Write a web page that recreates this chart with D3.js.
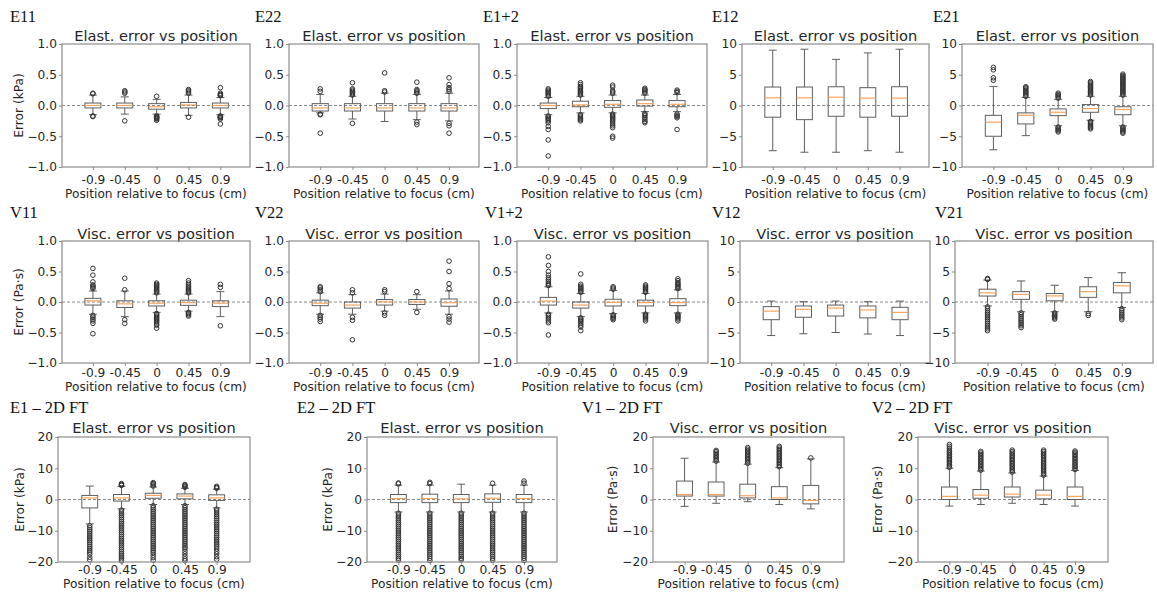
<!DOCTYPE html>
<html><head><meta charset="utf-8">
<script src="https://cdn.jsdelivr.net/npm/d3@7"></script>
<style>body{margin:0;background:#fff}svg{display:block}</style>
</head><body>
<svg id="c" width="1157" height="595"></svg>
<script>
// ---------- data ----------
const positions = [1, 2, 3, 4, 5];
const tickLabels = ["-0.9", "-0.45", "0", "0.45", "0.9"];

// box stats per position: [lowWhisker, q1, median, q3, highWhisker]
const E11_box = [[-0.15,-0.04,0.0,0.04,0.17],[-0.14,-0.04,0.0,0.04,0.14],[-0.14,-0.06,-0.02,0.03,0.1],[-0.16,-0.04,0.01,0.05,0.17],[-0.15,-0.04,0.0,0.04,0.13]];
const E11_fliers = [[0.19,0.2,-0.17,-0.18],[0.2,0.22,0.24,-0.25],[0.15,-0.17,-0.18,-0.19,-0.2,-0.21,-0.22,-0.24],[0.2,0.22,0.24,0.26,-0.19],[0.16,0.17,0.18,0.2,0.29,-0.17,-0.18,-0.19,-0.2,-0.22,-0.3]];

const E22_box = [[-0.12,-0.09,-0.04,0.03,0.18],[-0.22,-0.09,-0.04,0.03,0.15],[-0.26,-0.09,-0.04,0.03,0.2],[-0.23,-0.09,-0.04,0.03,0.18],[-0.25,-0.09,-0.04,0.03,0.2]];
const E22_fliers = [[0.23,0.27,-0.14,-0.15,-0.45],[0.17,0.19,0.21,0.23,0.25,0.27,0.37,-0.29],[0.22,0.24,0.53],[0.2,0.22,0.24,0.26,0.38,-0.27,-0.31],[0.23,0.26,0.29,0.34,0.45,-0.29,-0.33,-0.45]];

const E12p_box = [[-0.15,-0.05,0.0,0.04,0.13],[-0.12,-0.02,0.01,0.07,0.15],[-0.12,-0.03,0.02,0.08,0.17],[-0.1,-0.01,0.03,0.09,0.17],[-0.1,-0.02,0.02,0.08,0.18]];
const E12p_fliers = [[0.15,0.17,0.19,0.21,0.23,0.25,0.27,-0.17,-0.19,-0.21,-0.23,-0.25,-0.28,-0.34,-0.39,-0.56,-0.82],[0.17,0.19,0.21,0.23,0.25,0.27,0.29,0.31,0.34,0.37,-0.15,-0.17,-0.19,-0.21,-0.23,-0.25],[0.2,0.22,0.24,0.3,0.33,-0.14,-0.16,-0.18,-0.2,-0.22,-0.24,-0.27,-0.3,-0.33,-0.36,-0.5,-0.53],[0.2,0.22,0.24,0.26,0.28,-0.13,-0.15,-0.17,-0.2,-0.23,-0.26,-0.28],[0.21,0.23,0.25,-0.14,-0.16,-0.18,-0.2,-0.39]];

const E12_box = [[-7.35,-1.9,1.25,3.0,9.0],[-7.6,-2.3,1.25,3.0,9.15],[-7.6,-1.75,1.35,3.05,7.5],[-7.35,-1.9,1.2,2.9,8.55],[-7.6,-1.75,1.2,3.05,9.15]];
const E12_fliers = [[],[],[],[],[]];

const E21_box = [[-7.2,-5.0,-2.7,-1.6,3.1],[-4.9,-3.0,-1.6,-1.2,1.3],[-3.3,-1.65,-1.1,-0.55,1.0],[-2.4,-1.1,-0.5,0.15,1.5],[-3.3,-1.5,-0.65,-0.2,1.5]];
const E21_fliers = [[4.1,4.5,5.8,6.2],[1.5,1.7,1.9,2.1,2.3,2.5,2.7,2.9,3.05],[1.2,1.4,1.6,1.8,2.0,-3.5,-3.7,-3.9,-4.1,-4.3],[1.7,1.9,2.1,2.3,2.5,2.7,2.9,3.1,3.3,3.5,3.7,3.9,-2.6,-2.8,-3.0,-3.2,-3.4,-3.6,-3.8],[1.7,1.9,2.1,2.3,2.5,2.7,2.9,3.1,3.3,3.5,3.7,3.9,4.1,4.3,4.5,4.7,4.9,5.1,-3.5,-3.7,-3.9,-4.1,-4.3,-4.5]];

const V11_box = [[-0.2,-0.05,0.02,0.06,0.18],[-0.24,-0.09,-0.03,0.02,0.18],[-0.17,-0.065,-0.02,0.02,0.13],[-0.15,-0.055,-0.01,0.03,0.13],[-0.24,-0.075,-0.02,0.02,0.17]];
const V11_fliers = [[0.22,0.24,0.26,0.28,0.33,0.44,0.55,-0.22,-0.25,-0.28,-0.31,-0.35,-0.52],[0.2,0.39,-0.29,-0.35],[0.15,0.17,0.19,0.21,0.23,0.25,0.27,0.29,0.31,-0.19,-0.21,-0.23,-0.25,-0.27,-0.29,-0.31,-0.33,-0.36,-0.38,-0.43],[0.15,0.17,0.19,0.21,0.23,0.25,0.28,0.31,0.35,-0.17,-0.19,-0.21,-0.23],[0.24,0.29,-0.39]];

const V22_box = [[-0.2,-0.06,-0.02,0.03,0.15],[-0.2,-0.1,-0.05,0.0,0.12],[-0.15,-0.05,0.0,0.04,0.13],[-0.12,-0.04,0.0,0.04,0.12],[-0.2,-0.07,-0.01,0.05,0.18]];
const V22_fliers = [[0.17,0.2,0.23,0.25,-0.22,-0.25,-0.28,-0.32],[0.15,0.2,-0.25,-0.3,-0.62],[0.17,0.2,-0.18,-0.22],[0.17,-0.17],[0.22,0.3,0.5,0.67,-0.24,-0.28,-0.33]];

const V12p_box = [[-0.18,-0.05,0.016,0.076,0.25],[-0.24,-0.1,-0.05,0.0,0.14],[-0.19,-0.065,-0.005,0.045,0.19],[-0.18,-0.065,-0.01,0.03,0.14],[-0.18,-0.06,-0.01,0.055,0.2]];
const V12p_fliers = [[0.27,0.29,0.31,0.34,0.37,0.4,0.44,0.5,0.6,0.74,-0.2,-0.22,-0.25,-0.28,-0.31,-0.34,-0.54],[0.16,0.18,0.2,0.22,0.24,0.26,0.29,0.46,-0.26,-0.28,-0.3,-0.32,-0.35,-0.38,-0.41,-0.47],[0.21,0.23,0.25,-0.21,-0.23,-0.25,-0.27,-0.29],[0.16,0.18,0.2,0.22,0.24,0.26,0.28,-0.2,-0.22,-0.24,-0.26,-0.28,-0.31],[0.22,0.24,0.26,0.28,0.3,0.32,0.35,0.38,-0.2,-0.22,-0.24,-0.26,-0.28,-0.31]];

const V12_box = [[-5.5,-2.9,-1.5,-0.76,0.15],[-5.2,-2.5,-1.2,-0.65,0.05],[-5.0,-2.3,-1.0,-0.5,0.15],[-5.25,-2.6,-1.3,-0.65,0.05],[-5.5,-2.9,-1.7,-0.87,0.15]];
const V12_fliers = [[],[],[],[],[]];

const V21_box = [[-0.65,0.98,1.5,2.1,3.6],[-1.6,0.43,1.25,1.7,3.45],[-1.6,0.2,1.0,1.4,2.75],[-1.6,0.76,1.7,2.5,4.0],[-0.9,1.5,2.65,3.2,4.8]];
const V21_fliers = [[3.7,3.85,-0.8,-1.1,-1.4,-1.7,-2.0,-2.3,-2.6,-2.9,-3.2,-3.5,-3.8,-4.1,-4.4,-4.7],[-1.8,-2.1,-2.4,-2.7,-3.0,-3.3,-3.6,-3.9,-4.2],[-1.8,-2.0,-2.2,-2.4,-2.6,-2.8],[-1.9,-2.2],[-1.1,-1.4,-1.7,-2.0,-2.3,-2.6,-2.9]];

const E1FT_box = [[-7.8,-2.7,0.5,1.3,4.3],[-3.0,-0.5,0.5,1.6,4.2],[-1.6,0.4,1.3,2.0,4.0],[-1.6,0.2,1.1,1.8,3.6],[-2.7,-0.3,0.5,1.5,3.3]];
const E1FT_fliers = [
 [-8.4,-9.0,-9.6,-10.2,-10.8,-11.4,-12.0,-12.6,-13.2,-13.8,-14.4,-15.0,-15.6,-16.2,-16.8,-17.5,-18.5,-19.3],
 [4.5,4.8,5.1,-3.4,-4.0,-4.6,-5.2,-5.8,-6.4,-7.0,-7.6,-8.2,-8.8,-9.4,-10.0,-10.6,-11.2,-11.8,-12.4,-13.0,-13.6,-14.2,-14.8,-15.4,-16.0,-16.6,-17.2,-17.8,-18.4,-19.0,-19.6],
 [4.3,4.7,5.1,5.4,-2.0,-2.6,-3.2,-3.8,-4.4,-5.0,-5.6,-6.2,-6.8,-7.4,-8.0,-8.6,-9.2,-9.8,-10.4,-11.0,-11.6,-12.2,-12.8,-13.4,-14.0,-14.6,-15.2,-15.8,-16.4,-17.0,-17.8,-18.6,-19.4],
 [3.9,4.2,4.5,4.8,-2.0,-2.6,-3.2,-3.8,-4.4,-5.0,-5.6,-6.2,-6.8,-7.4,-8.0,-8.6,-9.2,-9.8,-10.4,-11.0,-11.6,-12.2,-12.8,-13.4,-14.0,-14.6,-15.2,-15.8,-16.6,-17.4,-18.2,-19.0,-19.6],
 [3.6,3.9,4.2,-3.1,-3.7,-4.3,-4.9,-5.5,-6.1,-6.7,-7.3,-7.9,-8.5,-9.1,-9.7,-10.3,-10.9,-11.5,-12.1,-12.7,-13.3,-13.9,-14.5,-15.1,-15.8,-16.6,-17.4,-18.3,-19.1]];

const E2FT_box = [[-4.0,-1.0,0.3,1.6,4.6],[-4.0,-1.0,0.3,1.7,4.6],[-4.0,-1.0,0.2,1.6,4.9],[-4.0,-0.9,0.4,1.8,4.6],[-4.0,-1.0,0.3,1.6,4.6]];
const E2FT_fliers = [
 [5.0,5.3,-4.4,-5.0,-5.6,-6.2,-6.8,-7.4,-8.0,-8.6,-9.2,-9.8,-10.4,-11.0,-11.6,-12.2,-12.8,-13.4,-14.0,-14.6,-15.2,-15.8,-16.4,-17.0,-17.6,-18.2,-18.8,-19.4],
 [5.1,5.5,-4.4,-5.0,-5.6,-6.2,-6.8,-7.4,-8.0,-8.6,-9.2,-9.8,-10.4,-11.0,-11.6,-12.2,-12.8,-13.4,-14.0,-14.6,-15.2,-15.8,-16.4,-17.0,-17.6,-18.2,-18.8,-19.5],
 [-4.4,-5.0,-5.6,-6.2,-6.8,-7.4,-8.0,-8.6,-9.2,-9.8,-10.4,-11.0,-11.6,-12.2,-12.8,-13.4,-14.0,-14.6,-15.2,-15.8,-16.4,-17.0,-17.6,-18.2,-18.8,-19.3],
 [5.2,-4.4,-5.0,-5.6,-6.2,-6.8,-7.4,-8.0,-8.6,-9.2,-9.8,-10.4,-11.0,-11.6,-12.2,-12.8,-13.4,-14.0,-14.6,-15.2,-15.8,-16.4,-17.0,-17.6,-18.2,-18.8,-19.4],
 [5.2,5.9,-4.4,-5.0,-5.6,-6.2,-6.8,-7.4,-8.0,-8.6,-9.2,-9.8,-10.4,-11.0,-11.6,-12.2,-12.8,-13.4,-14.0,-14.6,-15.2,-15.8,-16.4,-17.0,-17.6,-18.2,-18.8,-19.5]];

const V1FT_box = [[-2.2,1.1,1.6,5.9,13.2],[-1.2,1.1,1.6,5.6,12.0],[-0.7,0.5,1.2,4.9,11.3],[-1.6,0.0,0.5,4.1,10.2],[-3.0,-1.4,-0.3,4.5,13.0]];
const V1FT_fliers = [[],[12.3,12.8,13.3,13.8,14.3,14.8,15.3,15.7],[11.6,12.1,12.6,13.1,13.6,14.1,14.6,15.1,15.6,16.1,16.6],[10.5,11.0,11.5,12.0,12.5,13.0,13.5,14.0,14.5,15.0,15.5,16.0,16.5,17.0],[13.3]];

const V2FT_box = [[-2.1,0.0,1.0,4.0,10.0],[-1.6,0.4,1.4,3.2,9.1],[-1.2,0.8,1.7,4.0,8.5],[-1.6,0.2,1.4,3.0,7.5],[-2.1,0.0,1.0,4.0,9.3]];
const V2FT_fliers = [[10.3,10.8,11.3,11.8,12.3,12.8,13.3,13.8,14.3,14.8,15.3,15.8,16.4,17.0,17.6],[9.4,9.9,10.4,10.9,11.4,11.9,12.4,12.9,13.4,13.9,14.4,14.9,15.4],[8.8,9.3,9.8,10.3,10.8,11.3,11.8,12.3,12.8,13.3,13.8,14.3,14.8,15.3,15.8],[7.8,8.3,8.8,9.3,9.8,10.3,10.8,11.3,11.8,12.3,12.8,13.3,13.8,14.3,14.8,15.3,15.8],[9.6,10.1,10.6,11.1,11.6,12.1,12.6,13.1,13.6,14.1,14.6,15.1,15.5]];

const ticks1 = [-1, -0.5, 0, 0.5, 1];
const ticks10 = [-10, -5, 0, 5, 10];
const ticks20 = [-20, -10, 0, 10, 20];
const ELAST = "Elast. error vs position", VISC = "Visc. error vs position";
const XLAB = "Position relative to focus (cm)";

// ---------- layout ----------
const FS = 12.2;
const rows = [
  {top:44, bottom:167, labelY:22, titleOff:3, tickBase:16.5, xlabBase:30.5, xdom:[0.03,5.93]},
  {top:241, bottom:363, labelY:218, titleOff:2, tickBase:14, xlabBase:28, xdom:[0.03,5.93]},
  {top:437, bottom:562, labelY:413, titleOff:4, tickBase:12, xlabBase:26, xdom:[0.0,6.05]}
];
const panels = [
  {r:0,x0:62,x1:250,lx:10,name:"E11",box:E11_box,fl:E11_fliers,ticks:ticks1,t:ELAST,yl:"Error (kPa)",ylx:18},
  {r:0,x0:289,x1:479,lx:255,name:"E22",box:E22_box,fl:E22_fliers,ticks:ticks1,t:ELAST},
  {r:0,x0:517,x1:707,lx:483,name:"E1+2",box:E12p_box,fl:E12p_fliers,ticks:ticks1,t:ELAST},
  {r:0,x0:742,x1:929,lx:712,name:"E12",box:E12_box,fl:E12_fliers,ticks:ticks10,t:ELAST},
  {r:0,x0:962,x1:1153,lx:933,name:"E21",box:E21_box,fl:E21_fliers,ticks:ticks10,t:ELAST},
  {r:1,x0:62,x1:250,lx:10,name:"V11",box:V11_box,fl:V11_fliers,ticks:ticks1,t:VISC,yl:"Error (Pa·s)",ylx:18},
  {r:1,x0:289,x1:479,lx:255,name:"V22",box:V22_box,fl:V22_fliers,ticks:ticks1,t:VISC},
  {r:1,x0:517,x1:708,lx:485,name:"V1+2",box:V12p_box,fl:V12p_fliers,ticks:ticks1,t:VISC},
  {r:1,x0:740,x1:930,lx:712,name:"V12",box:V12_box,fl:V12_fliers,ticks:ticks10,t:VISC},
  {r:1,x0:955,x1:1153,lx:935,name:"V21",box:V21_box,fl:V21_fliers,ticks:ticks10,t:VISC},
  {r:2,x0:58,x1:250,lx:10,name:"E1 – 2D FT",box:E1FT_box,fl:E1FT_fliers,ticks:ticks20,t:ELAST,yl:"Error (kPa)",ylx:19},
  {r:2,x0:367,x1:557,lx:297,name:"E2 – 2D FT",box:E2FT_box,fl:E2FT_fliers,ticks:ticks20,t:ELAST,yl:"Error (kPa)",ylx:327},
  {r:2,x0:653,x1:844,lx:582,name:"V1 – 2D FT",box:V1FT_box,fl:V1FT_fliers,ticks:ticks20,t:VISC,yl:"Error (Pa·s)",ylx:612},
  {r:2,x0:918,x1:1108,lx:872,name:"V2 – 2D FT",box:V2FT_box,fl:V2FT_fliers,ticks:ticks20,t:VISC,yl:"Error (Pa·s)",ylx:877}
];

const svg = d3.select("#c");
const FONT = "'DejaVu Sans', sans-serif";
const TXT = "#262626", LINE = "#5e5e5e", FRAME = "#8c8c8c", MED = "#f5a560", FL = "#333";

panels.forEach(p => {
  const R = rows[p.r];
  const lim = p.ticks[p.ticks.length - 1];
  const x = d3.scaleLinear().domain(R.xdom).range([p.x0, p.x1]);
  const y = d3.scaleLinear().domain([-lim, lim]).range([R.bottom, R.top]);
  const g = svg.append("g");
  const tf = p.ticks === ticks1 ? (v => d3.format(".1f")(v).replace("-", "\u2212")) : (v => d3.format("d")(v).replace("-", "\u2212"));

  // panel label
  svg.append("text").attr("x", p.lx).attr("y", R.labelY).text(p.name)
    .attr("font-family", "'Liberation Serif', 'Times New Roman', serif").attr("font-size", 16.5).attr("fill", "#111");
  // title
  g.append("text").attr("x", (p.x0 + p.x1) / 2).attr("y", R.top - R.titleOff).attr("text-anchor", "middle")
    .attr("font-family", FONT).attr("font-size", 14.6).attr("fill", TXT).text(p.t);

  // zero dashed line
  g.append("line").attr("x1", p.x0).attr("x2", p.x1).attr("y1", y(0)).attr("y2", y(0))
    .attr("stroke", "#8a8a8a").attr("stroke-width", 1).attr("stroke-dasharray", "3,2");

  // axes
  const ya = d3.axisLeft(y).tickValues(p.ticks).tickFormat(tf).tickSize(3).tickPadding(2);
  const yg = g.append("g").attr("transform", `translate(${p.x0},0)`).call(ya);
  const xa = d3.axisBottom(x).tickValues(positions).tickFormat((d, i) => tickLabels[i]).tickSize(3);
  const xg = g.append("g").attr("transform", `translate(0,${R.bottom})`).call(xa);
  xg.selectAll("text").attr("y", R.tickBase).attr("dy", null);
  [yg, xg].forEach(a => {
    a.select(".domain").remove();
    a.selectAll("line").attr("stroke", FRAME);
    a.selectAll("text").attr("font-family", FONT).attr("font-size", FS).attr("fill", TXT);
  });

  // boxes
  const hw = (x(1.25) - x(1)), cw = (x(1.125) - x(1));
  p.box.forEach((b, i) => {
    const cx = x(positions[i]);
    const bg = g.append("g");
    bg.append("line").attr("x1", cx).attr("x2", cx).attr("y1", y(b[0])).attr("y2", y(b[1])).attr("stroke", LINE);
    bg.append("line").attr("x1", cx).attr("x2", cx).attr("y1", y(b[3])).attr("y2", y(b[4])).attr("stroke", LINE);
    [b[0], b[4]].forEach(v => bg.append("line").attr("x1", cx - cw).attr("x2", cx + cw).attr("y1", y(v)).attr("y2", y(v)).attr("stroke", LINE));
    bg.append("rect").attr("x", cx - hw).attr("width", 2 * hw).attr("y", y(b[3])).attr("height", Math.max(0.5, y(b[1]) - y(b[3])))
      .attr("fill", "none").attr("stroke", LINE);
    bg.append("line").attr("x1", cx - hw).attr("x2", cx + hw).attr("y1", y(b[2])).attr("y2", y(b[2])).attr("stroke", MED).attr("stroke-width", 1.2);
    bg.selectAll("circle").data(p.fl[i]).join("circle").attr("cx", cx).attr("cy", d => y(d)).attr("r", 2.3)
      .attr("fill", "none").attr("stroke", FL).attr("stroke-width", 1);
  });

  // frame
  g.append("rect").attr("x", p.x0).attr("y", R.top).attr("width", p.x1 - p.x0).attr("height", R.bottom - R.top)
    .attr("fill", "none").attr("stroke", FRAME).attr("stroke-width", 1.2);

  // x label
  g.append("text").attr("x", (p.x0 + p.x1) / 2).attr("y", R.bottom + R.xlabBase).attr("text-anchor", "middle")
    .attr("font-family", FONT).attr("font-size", FS).attr("fill", TXT).text(XLAB);
  // y label
  if (p.yl) {
    g.append("text").attr("transform", `translate(${p.ylx + 4.5},${(R.top + R.bottom) / 2}) rotate(-90)`)
      .attr("text-anchor", "middle").attr("font-family", FONT).attr("font-size", FS).attr("fill", TXT).text(p.yl);
  }
});
</script>
</body></html>
